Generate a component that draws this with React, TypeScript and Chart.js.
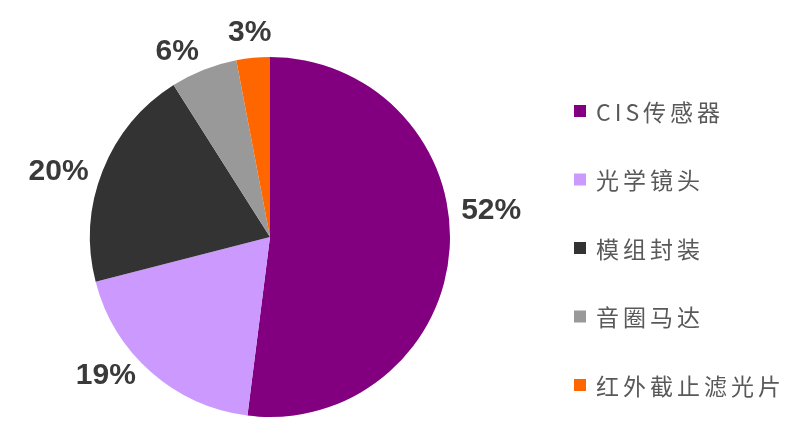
import React, { useEffect, useRef } from "react";
import { Chart, registerables } from "chart.js";

Chart.register(...registerables);

const categories = ["CIS传感器", "光学镜头", "模组封装", "音圈马达", "红外截止滤光片"];
const shares = [52, 19, 20, 6, 3];
const colors = ["#82007f", "#cc99ff", "#333333", "#999999", "#ff6600"];
// label placement tweak (degrees), styling only
const labelAngleNudge = [-11, 6, -3, -4, 0];

const labelPlugin = {
  id: "outsideLabels",
  afterDraw(chart: any) {
    const ctx = chart.ctx as CanvasRenderingContext2D;
    const meta = chart.getDatasetMeta(0);
    ctx.save();
    ctx.font = "bold 30px 'Liberation Sans', Arial, sans-serif";
    ctx.fillStyle = "#3a3a3a";
    ctx.textAlign = "center";
    ctx.textBaseline = "middle";
    meta.data.forEach((arc: any, i: number) => {
      const { x, y, startAngle, endAngle, outerRadius } = arc.getProps(
        ["x", "y", "startAngle", "endAngle", "outerRadius"],
        true
      );
      const mid = (startAngle + endAngle) / 2 + (labelAngleNudge[i] * Math.PI) / 180;
      const text = shares[i] + "%";
      const w = ctx.measureText(text).width;
      const h = 24;
      const d = outerRadius + 13;
      const cx = x + Math.cos(mid) * d + Math.cos(mid) * (w / 2);
      const cy = y + Math.sin(mid) * d + Math.sin(mid) * (h / 2);
      ctx.fillText(text, cx, cy);
    });
    ctx.restore();

    // legend
    ctx.save();
    const lx = 574;
    const ly0 = 111;
    const step = 68.5;
    ctx.textAlign = "left";
    ctx.textBaseline = "middle";
    ctx.font = "23px 'Noto Sans CJK SC', 'Liberation Sans', sans-serif";
    (ctx as any).letterSpacing = "4px";
    categories.forEach((c, i) => {
      const yy = ly0 + i * step;
      ctx.fillStyle = colors[i];
      ctx.fillRect(lx, yy - 6, 12, 12);
      ctx.fillStyle = "#595959";
      ctx.fillText(c, lx + 22, yy + 1);
    });
    ctx.restore();
  },
};

export default function App() {
  const ref = useRef<HTMLCanvasElement>(null);
  useEffect(() => {
    if (!ref.current) return;
    const chart = new Chart(ref.current, {
      type: "pie",
      data: {
        labels: categories,
        datasets: [
          {
            data: shares,
            backgroundColor: colors,
            borderWidth: 0,
          },
        ],
      },
      options: {
        responsive: false,
        animation: false,
        layout: { padding: { left: 90, right: 350, top: 56, bottom: 25 } },
        plugins: { legend: { display: false }, tooltip: { enabled: false } },
      },
      plugins: [labelPlugin],
    });
    return () => chart.destroy();
  }, []);
  return (
    <div style={{ position: "fixed", left: 0, top: 0, width: 800, height: 443, background: "#fff" }}>
      <canvas ref={ref} width={800} height={443} />
    </div>
  );
}
